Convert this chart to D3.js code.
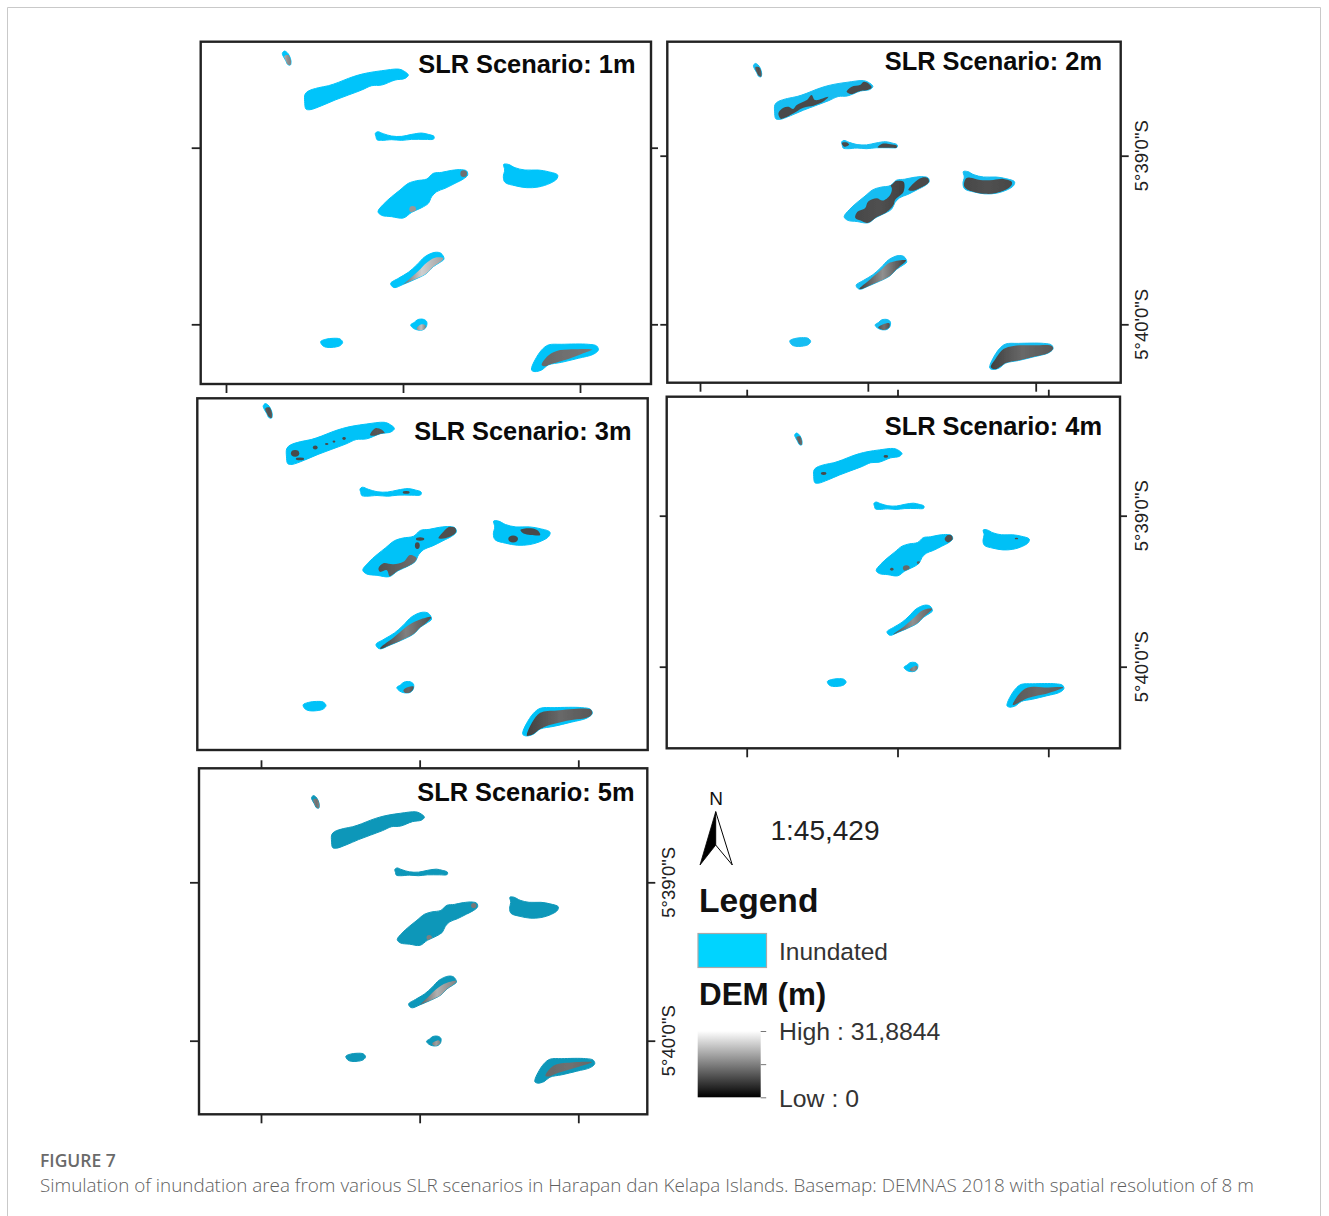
<!DOCTYPE html>
<html><head><meta charset="utf-8">
<style>html,body{margin:0;padding:0;background:#fff}svg{display:block}text{font-family:"Liberation Sans",Arial,sans-serif}</style>
<script src="https://cdn.jsdelivr.net/npm/d3@7"></script></head><body>
<svg id="c" width="1329" height="1216"></svg>
<script>
// ---- DATA (map units: easting / southing) ----
const scenarios = ["1m","2m","3m","4m","5m"];
const lonTicks = [93,624,1155];
const latTicks = [338,868];
const latLabels = ['5°39\'0"S','5°40\'0"S'];
const islet = [[262,55],[268,48],[276,52],[283,62],[288,78],[286,90],[278,88],[272,76],[266,66]];
const islandA = [[330,178],[340,168],[370,158],[400,152],[430,142],[460,130],[490,120],[520,113],[560,107],[610,102],[625,107],[640,120],[630,130],[600,135],[560,150],[530,152],[500,165],[460,180],[420,195],[380,212],[345,224],[333,222],[329,200]];
const islandB = [[541,295],[548,290],[565,296],[590,303],[620,304],[650,298],[680,294],[700,298],[717,304],[716,312],[690,313],[650,313],[620,316],[590,314],[560,316],[546,314],[543,305]];
const islandC = [[549,530],[565,508],[590,485],[615,465],[640,445],[665,437],[695,432],[715,415],[740,412],[770,406],[800,404],[815,408],[818,420],[805,432],[780,445],[750,460],[725,470],[710,485],[700,505],[680,518],[650,532],[625,549],[590,545],[560,541]];
const islandD = [[926,388],[940,388],[960,398],[990,405],[1030,405],[1060,410],[1088,420],[1085,432],[1065,445],[1030,456],[995,458],[960,452],[930,442],[925,425],[929,405]];
const islandE = [[587,745],[610,730],[640,712],[665,690],[690,665],[720,652],[738,655],[747,672],[735,682],[715,695],[695,715],[660,733],[625,748],[600,758],[592,755]];
const islandF = [[647,870],[658,862],[668,854],[685,853],[695,860],[694,875],[685,884],[668,885],[655,880]];
const islandG = [[377,920],[392,913],[415,910],[435,912],[443,922],[435,932],[415,937],[395,937],[383,932]];
const islandH = [[1010,998],[1020,975],[1040,945],[1060,930],[1100,928],[1180,928],[1205,933],[1210,945],[1195,958],[1150,970],[1100,982],[1060,990],[1040,1005],[1020,1010],[1010,1006]];
const islands = [islet,islandA,islandB,islandC,islandD,islandE,islandF,islandG,islandH];

// not-inundated land: polygon vertices plus DEM elevation (m) across the patch
const dry1 = [
 {e:[22,18,16],p:[[268,63],[280,60],[288,76],[287,91],[278,88]]},
 {e:[11,26,20],p:[[615,757],[640,735],[670,708],[695,683],[720,668],[745,670],[725,692],[700,717],[665,735],[630,750]]},
 {e:[18,24,16],p:[[665,880],[680,868],[692,872],[688,886],[670,887]]},
 {e:[13,14,15],p:[[1040,990],[1058,963],[1085,948],[1130,943],[1192,944],[1160,957],[1120,972],[1080,984],[1050,994]]}];
const spots1 = [[806,416,10,10,14],[653,523,10,10,19]];
const dry2 = [
 {e:[12,10,12],p:[[268,60],[283,62],[288,90],[278,86]]},
 {e:[9,9,9],p:[[341,205],[357,187],[373,184],[388,191],[399,179],[431,163],[446,147],[457,163],[499,153],[483,168],[452,181],[420,187],[383,208],[351,223]]},
 {e:[9,9,9],p:[[557,137],[573,121],[599,116],[610,106],[626,111],[636,124],[610,137],[573,145]]},
 {e:[9,9,9],p:[[541,298],[555,296],[565,303],[550,310]]},
 {e:[9,9,9],p:[[655,312],[672,300],[695,302],[715,306],[715,314],[690,314]]},
 {e:[9,9,9],p:[[752,446],[768,425],[795,407],[814,409],[817,422],[800,435],[768,448]]},
 {e:[9,10,8],p:[[584,533],[591,514],[615,503],[625,482],[652,472],[671,479],[694,462],[700,441],[694,425],[715,417],[737,420],[737,451],[710,477],[705,493],[673,524],[626,550],[601,542]]},
 {e:[9,10,9],p:[[929,435],[935,409],[948,407],[979,414],[1021,414],[1053,411],[1079,420],[1079,430],[1058,446],[1006,460],[963,455]]},
 {e:[8,18,8],p:[[597,757],[631,727],[668,695],[694,674],[745,667],[721,690],[700,712],[663,736],[621,754]]},
 {e:[10,14,10],p:[[657,878],[673,868],[692,865],[692,877],[673,886]]},
 {e:[8,13,11],p:[[1013,1003],[1027,978],[1053,946],[1085,936],[1148,934],[1208,937],[1208,956],[1148,971],[1085,987],[1048,998],[1027,1010]]}];
const spots2 = [];
const dry3 = [
 {e:[12,10,12],p:[[268,62],[283,60],[288,90],[278,86]]},
 {e:[10,11,10],p:[[570,139],[585,119],[604,124],[613,137],[590,141]]},
 {e:[10,10,10],p:[[767,438],[781,419],[800,404],[820,409],[815,424],[791,436]]},
 {e:[10,12,14],p:[[594,525],[608,510],[637,513],[666,506],[685,486],[705,496],[695,515],[666,530],[628,549],[618,530],[599,535]]},
 {e:[9,9,9],p:[[1003,414],[1027,409],[1051,414],[1060,428],[1032,428],[1012,424]]},
 {e:[8,16,10],p:[[599,757],[637,726],[685,687],[714,673],[747,666],[724,691],[695,725],[647,749],[618,759]]},
 {e:[12,13,10],p:[[666,877],[680,868],[697,868],[690,884],[671,886]]},
 {e:[8,13,11],p:[[1022,1010],[1036,972],[1060,943],[1108,936],[1211,935],[1206,952],[1137,966],[1070,985],[1041,1005]]}];
const spots3 = [[354,192,12,10,9],[412,175,7,6,9],[445,165,5,3,9],[466,158,4,3,9],[495,149,5,4,9],[368,208,12,4,9],[674,305,10,4,9],[714,440,12,5,9],[706,459,7,10,9],[982,440,14,10,9]];
const dry4 = [
 {e:[14,12,14],p:[[268,62],[283,60],[288,90],[278,86]]},
 {e:[10,10,10],p:[[790,421],[802,405],[822,409],[820,424],[802,432]]},
 {e:[10,18,12],p:[[608,756],[649,725],[684,694],[713,670],[747,664],[719,692],[684,727],[637,747]]},
 {e:[14,18,14],p:[[667,879],[690,865],[696,873],[678,886]]},
 {e:[11,13,12],p:[[1030,1002],[1053,963],[1083,941],[1142,941],[1208,941],[1154,961],[1083,978],[1048,996]]}];
const spots4 = [[364,190,10,5,9],[583,130,8,5,9],[655,522,12,10,13],[604,526,6,5,10],[698,503,6,5,12],[1043,418,6,3,9]];
const dry5 = [
 {e:[16,14,16],p:[[268,62],[283,60],[288,90],[278,86]]},
 {e:[10,22,16],p:[[616,758],[649,725],[688,689],[722,672],[749,667],[722,693],[688,727],[638,751]]},
 {e:[16,20,16],p:[[666,878],[688,867],[694,875],[677,886]]},
 {e:[13,14,13],p:[[1045,985],[1073,951],[1118,942],[1201,940],[1157,955],[1084,977],[1056,988]]}];
const spots5 = [[805,416,9,9,15],[656,523,9,9,16]];
const dryByScenario = [dry1,dry2,dry3,dry4,dry5];
const spotsByScenario = [spots1,spots2,spots3,spots4,spots5];

const demDomain = [0,31.8844];

// ---- LAYOUT ----
const panels = [
 {f:[200.7,651,41.7,384],  x:[226,580],     y:[147.7,324.3], fill:"#00c4fa", t:[635.5,73],   ticks:{bottom:9,left:9,right:7}},
 {f:[667.3,1120.7,41.7,382.7],x:[700,1035.7],y:[155.7,324.3], fill:"#14bdf2", t:[1102,70],ticks:{bottom:9,left:7,right:8}, lab:1148},
 {f:[197.3,647.7,398.3,750],x:[204.5,573.2],y:[503.8,686.9], fill:"#00c2f8", t:[631.5,440],  ticks:{}},
 {f:[666.7,1120,396.7,748.3],x:[746.7,1048.3],y:[515.7,666.7],fill:"#00c0f6", t:[1102,435],ticks:{top:7,bottom:9,left:7,right:7}, lab:1148},
 {f:[199,647.3,768.3,1114.3],x:[261,578.3],  y:[882.3,1040.7],fill:"#0d97b9", t:[634.5,801],  ticks:{top:8,bottom:9,left:9,right:8}, lab:675}
];
const svg = d3.select("#c");
const defs = svg.append("defs");
const blur = defs.append("filter").attr("id","soft").attr("x","-5%").attr("y","-5%").attr("width","110%").attr("height","110%");
blur.append("feGaussianBlur").attr("stdDeviation",0.45);
const dem = d3.scaleLinear().domain(demDomain).range(["#000","#fff"]);

// page frame
svg.append("path").attr("d","M7.5,1216V7.5H1320.5V1216").attr("fill","none").attr("stroke","#c9c9c9").attr("stroke-width",1);

panels.forEach((P,i)=>{
  const xs = d3.scaleLinear().domain([lonTicks[0],lonTicks[2]]).range(P.x);
  const ys = d3.scaleLinear().domain(latTicks).range(P.y);
  const line = d3.line().x(d=>xs(d[0])).y(d=>ys(d[1])).curve(d3.curveCatmullRomClosed.alpha(0.5));
  const g = svg.append("g");
  const clip = defs.append("clipPath").attr("id","land"+i);
  clip.selectAll("path").data(islands).join("path").attr("d",line);
  const map = g.append("g").attr("filter","url(#soft)");
  map.selectAll("path.isl").data(islands).join("path").attr("class","isl").attr("d",line).attr("fill",P.fill).attr("stroke",P.fill).attr("stroke-width",1);
  const dryG = map.append("g").attr("clip-path",`url(#land${i})`);
  dryByScenario[i].forEach((d,j)=>{
    const id=`grad${i}_${j}`;
    const lg=defs.append("linearGradient").attr("id",id);
    d.e.forEach((v,k)=>lg.append("stop").attr("offset",k/(d.e.length-1)).attr("stop-color",dem(v)));
    dryG.append("path").attr("d",line(d.p)).attr("fill",`url(#${id})`);
  });
  const kx=Math.abs(xs(1)-xs(0)), ky=Math.abs(ys(1)-ys(0));
  dryG.selectAll("ellipse").data(spotsByScenario[i]).join("ellipse")
    .attr("cx",d=>xs(d[0])).attr("cy",d=>ys(d[1])).attr("rx",d=>d[2]*kx).attr("ry",d=>d[3]*ky).attr("fill",d=>dem(d[4]));

  g.append("rect").attr("x",P.f[0]).attr("y",P.f[2]).attr("width",P.f[1]-P.f[0]).attr("height",P.f[3]-P.f[2])
   .attr("fill","none").attr("stroke","#222").attr("stroke-width",2.4);

  const axes = {
    bottom:[d3.axisBottom(xs).tickValues(lonTicks),0,P.f[3]],
    top:[d3.axisTop(xs).tickValues(lonTicks),0,P.f[2]],
    left:[d3.axisLeft(ys).tickValues(latTicks),P.f[0],0],
    right:[d3.axisRight(ys).tickValues(latTicks),P.f[1],0]};
  Object.keys(P.ticks).forEach(k=>{
    const [ax,tx,ty]=axes[k];
    const a=g.append("g").attr("transform",`translate(${tx},${ty})`)
      .call(ax.tickSizeInner(P.ticks[k]).tickSizeOuter(0).tickFormat(""));
    a.select(".domain").remove();
    a.selectAll("line").attr("stroke","#222").attr("stroke-width",1.8);
  });
  if(P.lab){
    latTicks.forEach((v,k)=>{
      g.append("text").attr("transform",`translate(${P.lab},${ys(v)}) rotate(-90)`)
       .attr("text-anchor","middle").attr("font-size",18.5).attr("fill","#222").text(latLabels[k]);
    });
  }
  g.append("text").attr("x",P.t[0]).attr("y",P.t[1]).attr("text-anchor","end")
   .attr("font-size",25.4).attr("font-weight",700).attr("fill","#0a0a0a").text("SLR Scenario: "+scenarios[i]);
});

// north arrow, scale
const leg = svg.append("g");
leg.append("text").attr("x",716).attr("y",805).attr("text-anchor","middle").attr("font-size",19).attr("fill","#111").text("N");
leg.append("path").attr("d","M715.7,811.7L700,865L715.7,845Z").attr("fill","#000").attr("stroke","#000").attr("stroke-width",.8);
leg.append("path").attr("d","M715.7,811.7L732.3,865L715.7,845Z").attr("fill","#fff").attr("stroke","#000").attr("stroke-width",1);
leg.append("text").attr("x",770.5).attr("y",839.5).attr("font-size",28).attr("fill","#222").text("1:45,429");
leg.append("text").attr("x",699).attr("y",912).attr("font-size",33.6).attr("font-weight",700).attr("fill","#111").text("Legend");
leg.append("rect").attr("x",698).attr("y",933.5).attr("width",68.5).attr("height",34).attr("fill","#00d4ff").attr("stroke","#a9a9a9").attr("stroke-width",1.2);
leg.append("text").attr("x",779).attr("y",960).attr("font-size",24.5).attr("fill","#333").text("Inundated");
leg.append("text").attr("x",699).attr("y",1005).attr("font-size",31.4).attr("font-weight",700).attr("fill","#111").text("DEM (m)");
const rampY = d3.scaleLinear().domain(demDomain).range([1097.3,1031]);
const rg = defs.append("linearGradient").attr("id","ramp").attr("x1",0).attr("x2",0).attr("y1",1).attr("y2",0);
demDomain.forEach((v,k)=>rg.append("stop").attr("offset",k).attr("stop-color",dem(v)));
leg.append("rect").attr("x",697.7).attr("y",rampY(demDomain[1])).attr("width",63).attr("height",rampY(0)-rampY(demDomain[1])).attr("fill","url(#ramp)");
const rampAxis = leg.append("g").attr("transform","translate(760.7,0)")
  .call(d3.axisRight(rampY).tickValues([0,demDomain[1]/2,demDomain[1]]).tickSizeInner(5.5).tickSizeOuter(0).tickFormat(""));
rampAxis.select(".domain").remove();
rampAxis.selectAll("line").attr("stroke","#777").attr("stroke-width",1);
leg.append("text").attr("x",779).attr("y",1039.5).attr("font-size",24.8).attr("fill","#333").text("High : 31,8844");
leg.append("text").attr("x",779).attr("y",1106.5).attr("font-size",24.8).attr("fill","#333").text("Low : 0");

// caption
svg.append("text").attr("x",40).attr("y",1167).attr("font-size",17.5).attr("font-weight",600).attr("fill","#6a6a6a").style("font-family","'Open Sans'").text("FIGURE 7");
svg.append("text").attr("x",40).attr("y",1192).attr("font-size",18.85).attr("font-weight",300).attr("fill","#5f5f5f").style("font-family","'Open Sans'").text("Simulation of inundation area from various SLR scenarios in Harapan dan Kelapa Islands. Basemap: DEMNAS 2018 with spatial resolution of 8 m");
</script></body></html>
